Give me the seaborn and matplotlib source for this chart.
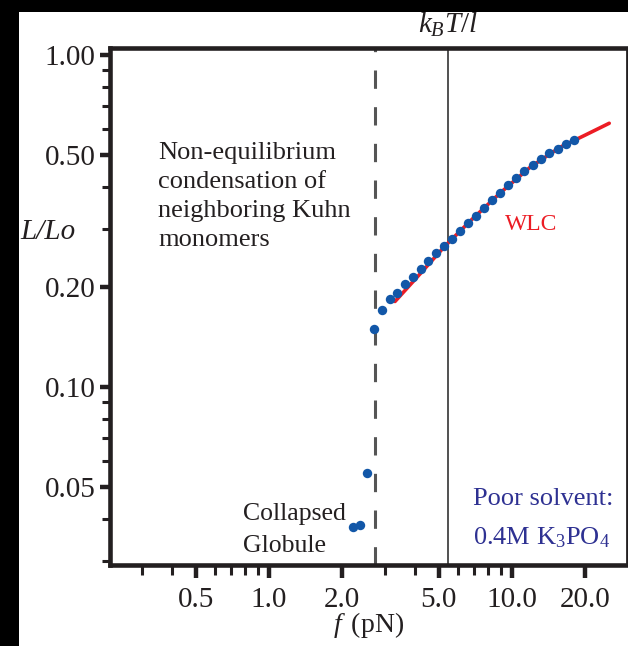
import matplotlib
matplotlib.use("Agg")
import matplotlib.pyplot as plt
from matplotlib.patches import Rectangle
from matplotlib.ticker import FixedLocator, FixedFormatter, NullFormatter
import seaborn as sns
import pandas as pd

# Force-extension data (poor solvent)
force_pN = [2.21, 2.37, 2.54, 2.70, 2.93, 3.15, 3.37, 3.62, 3.90, 4.21, 4.52,
            4.87, 5.25, 5.65, 6.11, 6.59, 7.11, 7.67, 8.27, 8.93, 9.65, 10.4,
            11.2, 12.2, 13.2, 14.2, 15.4, 16.7, 18.0]
extension = [0.0380, 0.0384, 0.0552, 0.150, 0.171, 0.184, 0.192, 0.204, 0.215,
             0.227, 0.240, 0.253, 0.266, 0.280, 0.296, 0.311, 0.328, 0.347,
             0.366, 0.385, 0.406, 0.426, 0.447, 0.467, 0.486, 0.506, 0.522,
             0.539, 0.555]

# Worm-like-chain curve
wlc_force = [3.30, 4.18, 5.25, 6.72, 8.93, 11.9, 15.8, 20.0, 25.1]
wlc_ext = [0.181, 0.219, 0.264, 0.316, 0.384, 0.460, 0.528, 0.574, 0.623]

# Reference forces
f_condense = 2.73
f_kbt_l = 5.45

x_ticks = [0.5, 1.0, 2.0, 5.0, 10.0, 20.0]
x_tick_labels = ["0.5", "1.0", "2.0", "5.0", "10.0", "20.0"]
x_minor = [0.3, 0.4, 0.6, 0.7, 0.8, 0.9, 3, 4, 6, 7, 8, 9]
y_ticks = [0.05, 0.10, 0.20, 0.50, 1.00]
y_tick_labels = ["0.05", "0.10", "0.20", "0.50", "1.00"]
y_minor = [0.03, 0.04, 0.06, 0.07, 0.08, 0.09, 0.3, 0.4, 0.6, 0.7, 0.8, 0.9]

points = pd.DataFrame({"force": force_pN, "ext": extension})
wlc = pd.DataFrame({"force": wlc_force, "ext": wlc_ext})

sns.set_theme(style="ticks")
serif = "Liberation Serif"
plt.rcParams["font.family"] = [serif, "DejaVu Serif"]
plt.rcParams["mathtext.fontset"] = "custom"
plt.rcParams["mathtext.rm"] = serif
plt.rcParams["mathtext.it"] = serif + ":italic"

ink = "#231f20"
blue = "#1257a8"
red = "#ec1c24"
navy = "#2e3192"

fig = plt.figure(figsize=(6.28, 6.46), dpi=100, facecolor="black")
fig.patches.append(Rectangle((19 / 628, 0), 1 - 19 / 628, 1 - 12 / 646,
                             transform=fig.transFigure, facecolor="white",
                             edgecolor="none", zorder=-5))
ax = fig.add_axes([110 / 628, 1 - 565 / 646, 517 / 628, 517 / 646])
ax.set_facecolor("white")

ax.axvline(f_condense, color="#555555", lw=2.2, dashes=(6, 6), zorder=1)
ax.axvline(f_kbt_l, color="#333333", lw=1.2, zorder=1)

sns.lineplot(data=wlc, x="force", y="ext", sort=False, color=red, lw=2.6,
             ax=ax, zorder=2)
sns.scatterplot(data=points, x="force", y="ext", color=blue, s=46,
                linewidth=0, ax=ax, zorder=3)

ax.set_xscale("log")
ax.set_yscale("log")
ax.set_xlim(0.222, 29.7)
ax.set_ylim(0.0291, 1.05)

ax.xaxis.set_major_locator(FixedLocator(x_ticks))
ax.xaxis.set_major_formatter(FixedFormatter(x_tick_labels))
ax.xaxis.set_minor_locator(FixedLocator(x_minor))
ax.xaxis.set_minor_formatter(NullFormatter())
ax.yaxis.set_major_locator(FixedLocator(y_ticks))
ax.yaxis.set_major_formatter(FixedFormatter(y_tick_labels))
ax.yaxis.set_minor_locator(FixedLocator(y_minor))
ax.yaxis.set_minor_formatter(NullFormatter())

for side in ["left", "top", "bottom"]:
    ax.spines[side].set_linewidth(3.3)
    ax.spines[side].set_color(ink)
ax.spines["right"].set_linewidth(2.0)
ax.spines["right"].set_color(ink)

ax.tick_params(axis="both", which="major", direction="out", color=ink,
               labelcolor=ink, labelsize=21, width=3.2)
ax.tick_params(axis="both", which="minor", direction="out", color=ink, width=2.2)
ax.tick_params(axis="x", which="major", length=9, pad=7)
ax.tick_params(axis="x", which="minor", length=7)
ax.tick_params(axis="y", which="major", length=7.5, pad=3)
ax.tick_params(axis="y", which="minor", length=6)

ax.set_xlabel(r"$f\,$ (pN)", fontsize=20, color=ink, labelpad=-2)
ax.set_ylabel("L/Lo", fontsize=21, color=ink, rotation=0, style="italic",
              ha="left", va="center")
ax.yaxis.set_label_coords((20 - 110) / 517, (565 - 232) / 517)

ax.text(f_kbt_l, 1.018, r"$k_BT/l$", transform=ax.get_xaxis_transform(),
        ha="center", va="bottom", fontsize=21, color=ink)

ax.text((158 - 110) / 517, (565 - 142) / 517,
        "Non-equilibrium\ncondensation of\nneighboring Kuhn\nmonomers",
        transform=ax.transAxes, ha="left", va="top", fontsize=19,
        color=ink, linespacing=1.42)
ax.text((243 - 110) / 517, (565 - 514) / 517, "Collapsed",
        transform=ax.transAxes, ha="left", va="center", fontsize=18.5, color=ink)
ax.text((243 - 110) / 517, (565 - 546) / 517, "Globule",
        transform=ax.transAxes, ha="left", va="center", fontsize=18.5, color=ink)
ax.text((531 - 110) / 517, (565 - 224) / 517, "WLC",
        transform=ax.transAxes, ha="center", va="center", fontsize=17, color=red)
ax.text((473 - 110) / 517, (565 - 499) / 517, "Poor solvent:",
        transform=ax.transAxes, ha="left", va="center", fontsize=19, color=navy)
ax.text((473 - 110) / 517, (565 - 538) / 517, r"0.4M K$_3$PO$_4$",
        transform=ax.transAxes, ha="left", va="center", fontsize=19, color=navy)

fig.savefig("out.png", dpi=100, facecolor=fig.get_facecolor())
